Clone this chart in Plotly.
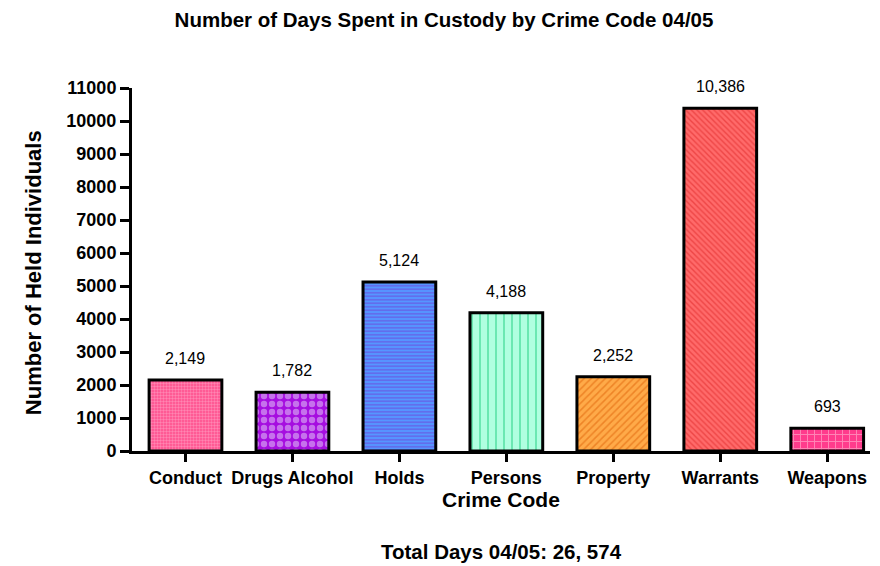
import plotly.graph_objects as go

categories = ["Conduct", "Drugs Alcohol", "Holds", "Persons", "Property", "Warrants", "Weapons"]
values = [2149, 1782, 5124, 4188, 2252, 10386, 693]
value_labels = ["2,149", "1,782", "5,124", "4,188", "2,252", "10,386", "693"]
fill_colors = ["#ff4c8c", "#a60ee0", "#5596ff", "#b0ffe0", "#ffaa48", "#ff6a6a", "#ff3c8c"]
pattern_colors = ["#ff86b2", "#c672ec", "#6a52e0", "#50e0a0", "#ee8426", "#ee4646", "#ff88b6"]
pattern_shapes = [".", ".", "-", "|", "/", "\\", "+"]
pattern_sizes = [3, 8, 3.5, 8, 5, 4, 7]
pattern_solidity = [0.5, 0.5, 0.3, 0.18, 0.3, 0.35, 0.25]
y_ticks = list(range(0, 11001, 1000))

# page has an 8px body margin; figure is sized so it fills the 880x566 window
W, H = 872, 558
L, T, R, B = 124, 80, 10, 115
plot_h = H - T - B
plot_w = W - L - R

fig = go.Figure()
for i, cat in enumerate(categories):
    fig.add_trace(go.Bar(
        x=[i],
        y=[values[i]],
        name=cat,
        width=0.68,
        cliponaxis=False,
        marker=dict(
            color=fill_colors[i],
            line=dict(color="black", width=3),
            pattern=dict(shape=pattern_shapes[i], fgcolor=pattern_colors[i],
                         bgcolor=fill_colors[i], fgopacity=1,
                         size=pattern_sizes[i], solidity=pattern_solidity[i],
                         fillmode="replace"),
        ),
        hoverinfo="skip",
    ))

annotations = []
for i, (v, lab) in enumerate(zip(values, value_labels)):
    annotations.append(dict(x=i, y=v, xref="x", yref="y", text=lab, showarrow=False,
                            yanchor="bottom", yshift=11,
                            font=dict(size=16, color="black",
                                      family="Liberation Sans, Arial")))
annotations.append(dict(text="<b>Crime Code</b>", x=0.5, xref="paper",
                        y=-(491 - (T + plot_h)) / plot_h, yref="paper",
                        yanchor="middle", showarrow=False, font=dict(size=21)))
annotations.append(dict(text="<b>Total Days 04/05: 26, 574</b>", x=0.5, xref="paper",
                        y=-(543 - (T + plot_h)) / plot_h, yref="paper",
                        yanchor="middle", showarrow=False, font=dict(size=20.5)))
annotations.append(dict(text="<b>Number of Held Individuals</b>", x=(25 - L) / plot_w,
                        xref="paper", xanchor="center", y=0.49, yref="paper",
                        yanchor="middle", textangle=-90, showarrow=False,
                        font=dict(size=22)))

fig.update_layout(
    width=W, height=H,
    barmode="overlay",
    margin=dict(l=L, r=R, t=T, b=B, autoexpand=False),
    plot_bgcolor="white", paper_bgcolor="white",
    showlegend=False,
    font=dict(family="Liberation Sans, Arial", color="black"),
    title=dict(text="<b>Number of Days Spent in Custody by Crime Code 04/05</b>",
               x=0.5, xanchor="center", y=1 - 12 / H, yanchor="middle",
               font=dict(size=20.5)),
    xaxis=dict(
        tickmode="array", tickvals=list(range(len(categories))),
        ticktext=["<b>%s</b>" % c for c in categories],
        range=[-0.5, 6.4],
        showline=True, linecolor="black", linewidth=3,
        ticks="outside", ticklen=8, tickwidth=2.5, tickcolor="black",
        tickfont=dict(size=18), showgrid=False, zeroline=False, automargin=False,
    ),
    yaxis=dict(
        range=[0, 11000], tickmode="array", tickvals=y_ticks,
        ticktext=["<b>%d</b>" % t for t in y_ticks],
        showline=True, linecolor="black", linewidth=3,
        ticks="outside", ticklen=9, tickwidth=2.5, tickcolor="black",
        tickfont=dict(size=18), showgrid=False, zeroline=False, automargin=False,
    ),
    annotations=annotations,
)

fig.write_html("out.html")
